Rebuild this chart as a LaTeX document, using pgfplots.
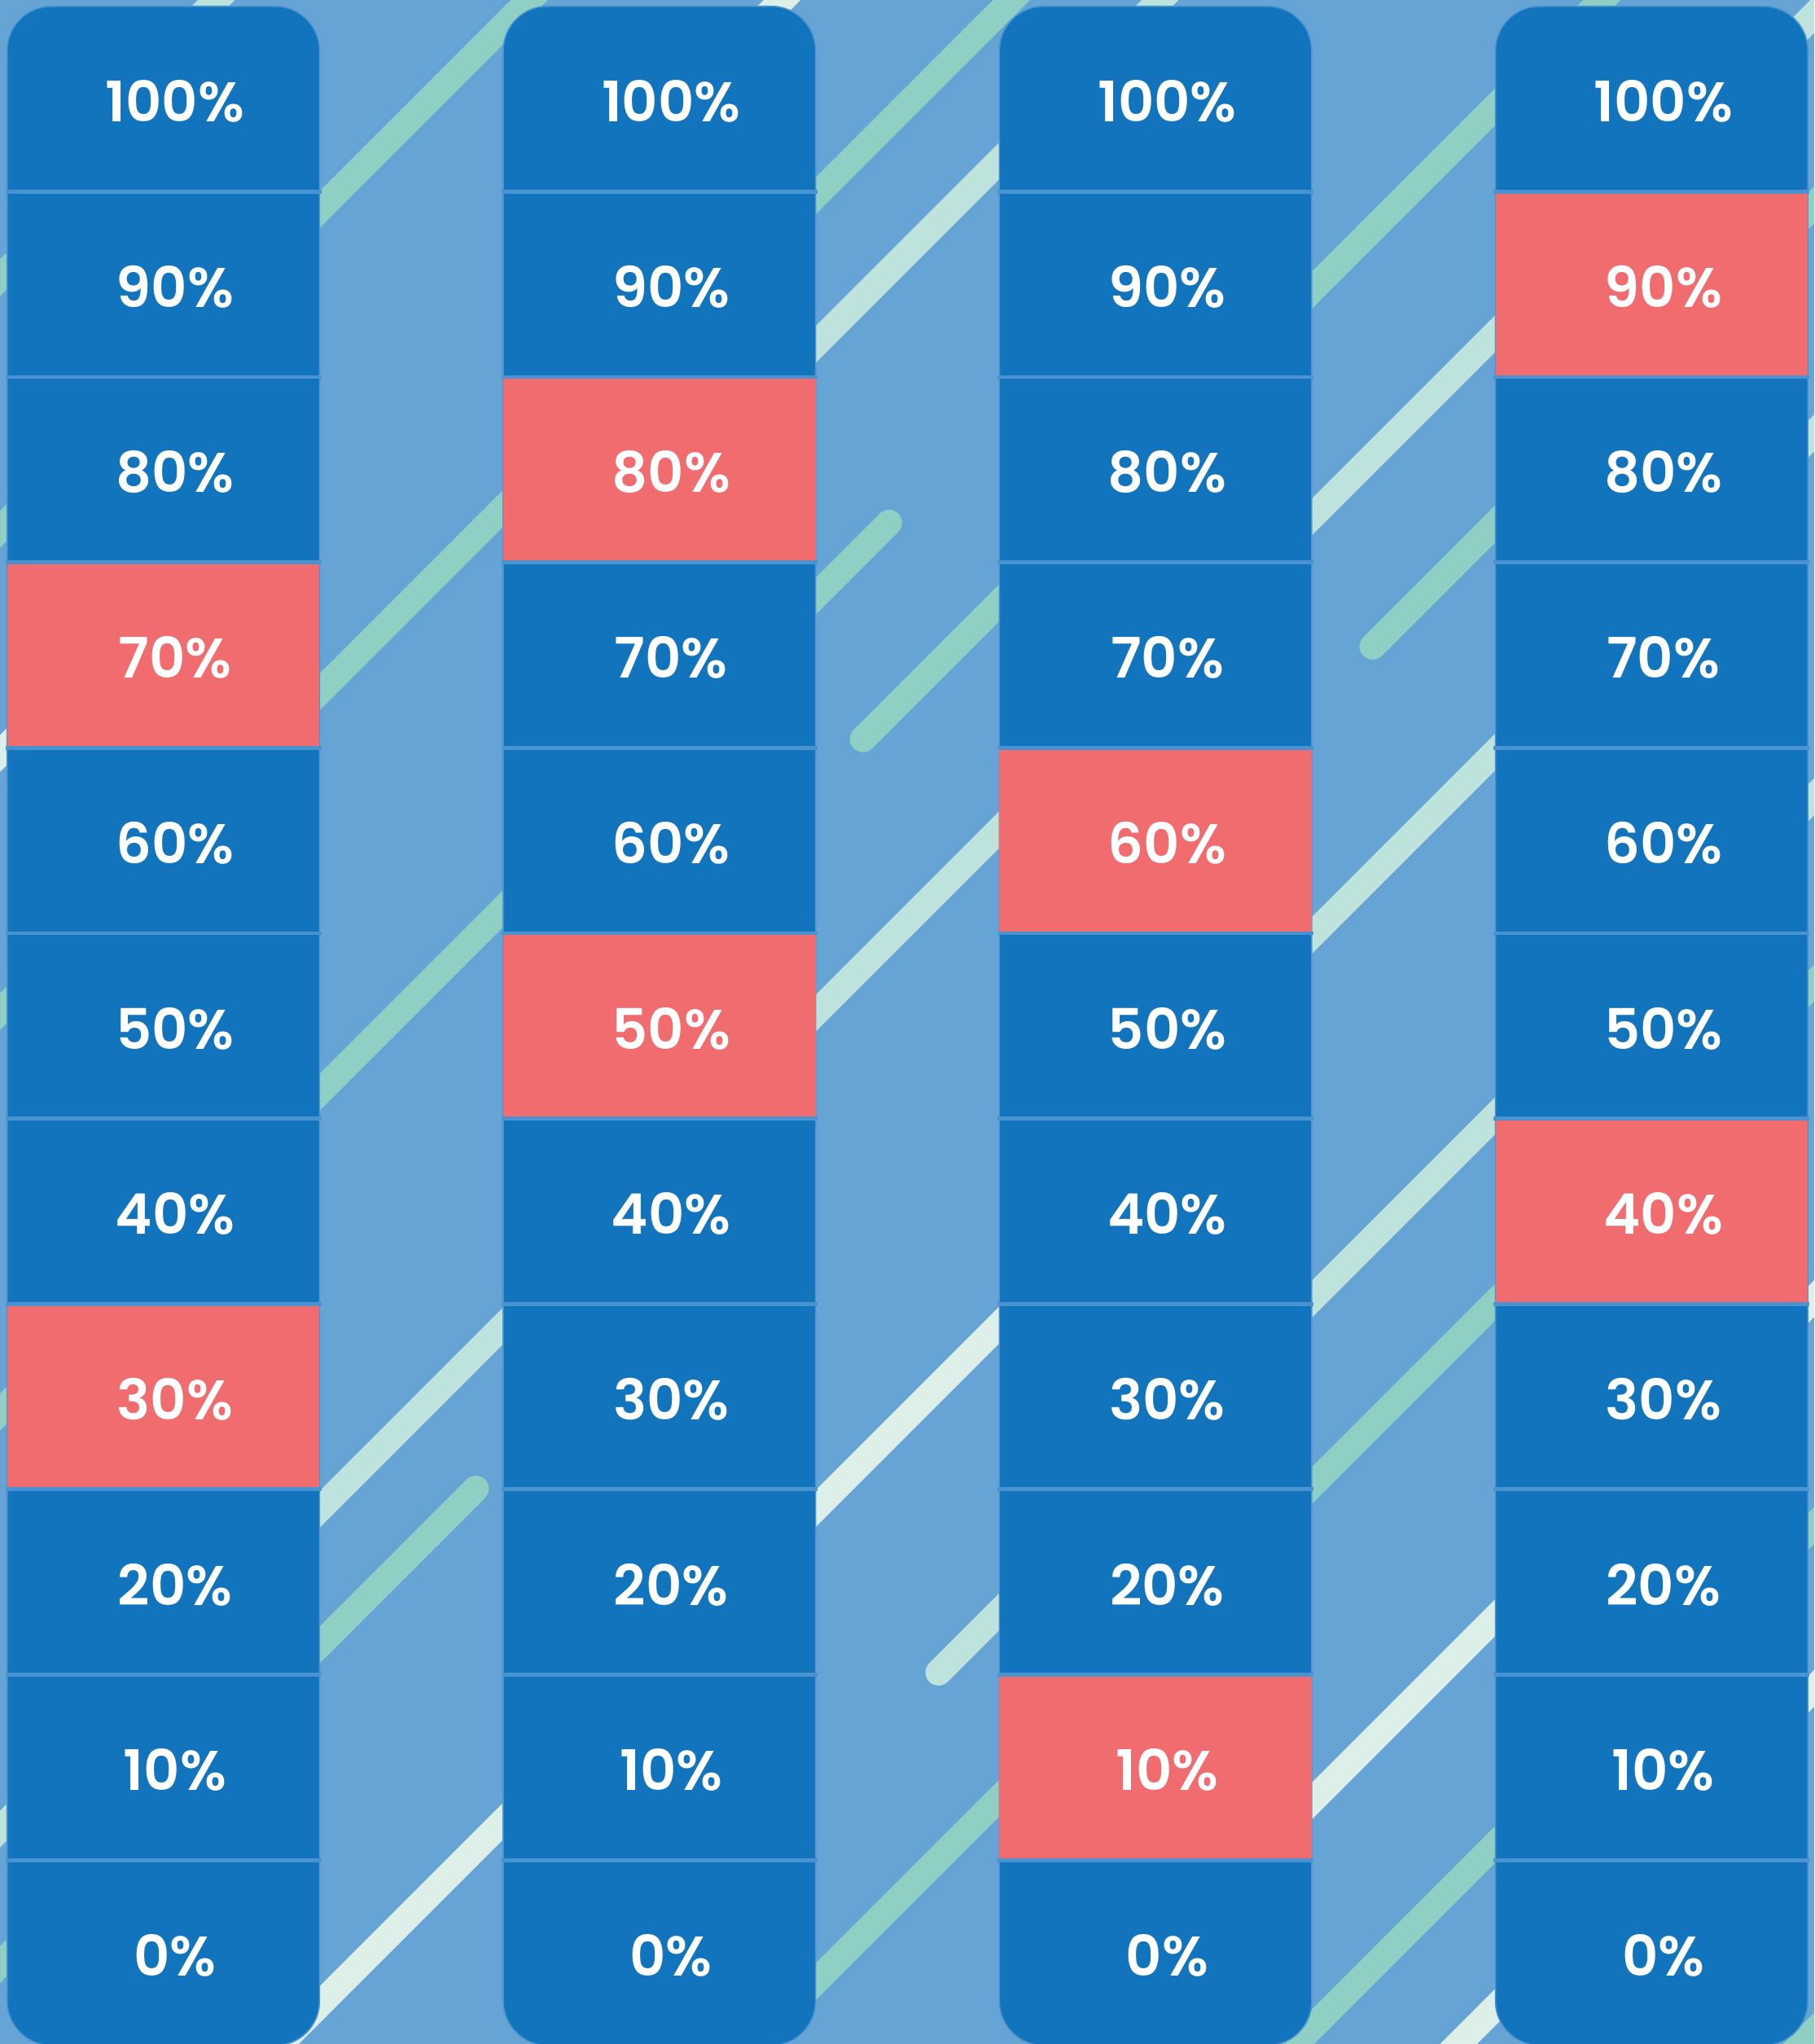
\documentclass[border=0pt]{standalone}
\usepackage{pgfplots}
\pgfplotsset{compat=1.18}
\usepackage{fontspec}
\newfontfamily\lf{Poppins SemiBold}
\definecolor{bgblue}{HTML}{67A4D6}
\definecolor{cellblue}{HTML}{1174BD}
\definecolor{cellred}{HTML}{F06C6F}
\definecolor{sepblue}{HTML}{4A93D0}
\definecolor{stripeA}{HTML}{8FCFC4}
\definecolor{stripeB}{HTML}{BDE3DC}
\definecolor{stripeC}{HTML}{DCEFE9}
\pgfplotsset{
  frame/.style={width=13.92cm, height=15.68cm, scale only axis, hide axis, clip=true},
  stripe/.style={line width=2mm, line cap=round, forget plot},
}
\begin{document}
\begin{tikzpicture}
% ---------- decorative background ----------
\begin{axis}[frame, name=bg, xmin=0, xmax=1392, ymin=0, ymax=1568, y dir=reverse]
\addplot[fill=bgblue, draw=none] coordinates {(0,0) (1392,0) (1392,1568) (0,1568)} -- cycle;
\addplot[stripe, stripeB] coordinates {(100,66) (200,-34)};
\addplot[stripe, stripeA] coordinates {(-30,243) (100,113)};
\addplot[stripe, stripeC] coordinates {(-30,608) (100,478)};
\addplot[stripe, stripeA] coordinates {(-30,436) (450,-44)};
\addplot[stripe, stripeC] coordinates {(480,120) (650,-50)};
\addplot[stripe, stripeA] coordinates {(-30,806) (830,-54)};
\addplot[stripe, stripeB] coordinates {(480,410) (950,-60)};
\addplot[stripe, stripeA] coordinates {(-30,1113) (682,401)};
\addplot[stripe, stripeA] coordinates {(662,567) (1290,-61)};
\addplot[stripe, stripeB] coordinates {(-30,1433) (1440,-37)};
\addplot[stripe, stripeA] coordinates {(-30,1537) (365,1142)};
\addplot[stripe, stripeA] coordinates {(1053,496) (1440,109)};
\addplot[stripe, stripeB] coordinates {(880,844) (1440,284)};
\addplot[stripe, stripeC] coordinates {(180,1603) (900,883)};
\addplot[stripe, stripeB] coordinates {(720,1283) (1440,563)};
\addplot[stripe, stripeA] coordinates {(540,1606) (1440,706)};
\addplot[stripe, stripeC] coordinates {(780,1608) (1440,948)};
\addplot[stripe, stripeA] coordinates {(960,1602) (1440,1122)};
\addplot[stripe, stripeC] coordinates {(1080,1607) (1440,1247)};
\addplot[stripe, stripeA] coordinates {(1340,1610) (1440,1510)};
\end{axis}
% ---------- the four scales ----------
\begin{axis}[frame, name=main, xmin=-0.3292, xmax=3.3281, ymin=-4.92, ymax=105.34]
% column bodies
\addplot[fill=cellblue, draw=sepblue, line width=0.1mm, rounded corners=3.4mm] coordinates {(0,-5) (0.3148,-5) (0.3148,105) (-0.3148,105) (-0.3148,-5) (0,-5)};
\addplot[fill=cellblue, draw=sepblue, line width=0.1mm, rounded corners=3.4mm] coordinates {(1,-5) (1.3148,-5) (1.3148,105) (0.6852,105) (0.6852,-5) (1,-5)};
\addplot[fill=cellblue, draw=sepblue, line width=0.1mm, rounded corners=3.4mm] coordinates {(2,-5) (2.3148,-5) (2.3148,105) (1.6852,105) (1.6852,-5) (2,-5)};
\addplot[fill=cellblue, draw=sepblue, line width=0.1mm, rounded corners=3.4mm] coordinates {(3,-5) (3.3148,-5) (3.3148,105) (2.6852,105) (2.6852,-5) (3,-5)};
% highlighted cells
\addplot[fill=cellred, draw=none] coordinates {(-0.3148,65) (0.3148,65) (0.3148,75) (-0.3148,75)} -- cycle;
\addplot[fill=cellred, draw=none] coordinates {(-0.3148,25) (0.3148,25) (0.3148,35) (-0.3148,35)} -- cycle;
\addplot[fill=cellred, draw=none] coordinates {(0.6852,75) (1.3148,75) (1.3148,85) (0.6852,85)} -- cycle;
\addplot[fill=cellred, draw=none] coordinates {(0.6852,45) (1.3148,45) (1.3148,55) (0.6852,55)} -- cycle;
\addplot[fill=cellred, draw=none] coordinates {(1.6852,55) (2.3148,55) (2.3148,65) (1.6852,65)} -- cycle;
\addplot[fill=cellred, draw=none] coordinates {(1.6852,5) (2.3148,5) (2.3148,15) (1.6852,15)} -- cycle;
\addplot[fill=cellred, draw=none] coordinates {(2.6852,85) (3.3148,85) (3.3148,95) (2.6852,95)} -- cycle;
\addplot[fill=cellred, draw=none] coordinates {(2.6852,35) (3.3148,35) (3.3148,45) (2.6852,45)} -- cycle;
% separators between cells
\addplot[only marks, mark=-, mark size=12.12mm, mark options={draw=sepblue, line width=0.3mm}] table {
X Y
0 5
0 15
0 25
0 35
0 45
0 55
0 65
0 75
0 85
0 95
1 5
1 15
1 25
1 35
1 45
1 55
1 65
1 75
1 85
1 95
2 5
2 15
2 25
2 35
2 45
2 55
2 65
2 75
2 85
2 95
3 5
3 15
3 25
3 35
3 45
3 55
3 65
3 75
3 85
3 95
};
% cell labels
\addplot[draw=none, mark=none, point meta=explicit symbolic,
  nodes near coords={\pgfplotspointmeta\%},
  nodes near coords align={center},
  every node near coord/.append style={font=\lf\fontsize{12.2}{14}\selectfont, text=white, xshift=0.9mm, yshift=-0.2mm, inner sep=0pt}]
  table[x=X, y=Y, meta=Y] {
X Y
0 0
0 10
0 20
0 30
0 40
0 50
0 60
0 70
0 80
0 90
0 100
1 0
1 10
1 20
1 30
1 40
1 50
1 60
1 70
1 80
1 90
1 100
2 0
2 10
2 20
2 30
2 40
2 50
2 60
2 70
2 80
2 90
2 100
3 0
3 10
3 20
3 30
3 40
3 50
3 60
3 70
3 80
3 90
3 100
};
\end{axis}
\pgfresetboundingbox
\useasboundingbox (bg.south west) rectangle (bg.north east);
\end{tikzpicture}
\end{document}
